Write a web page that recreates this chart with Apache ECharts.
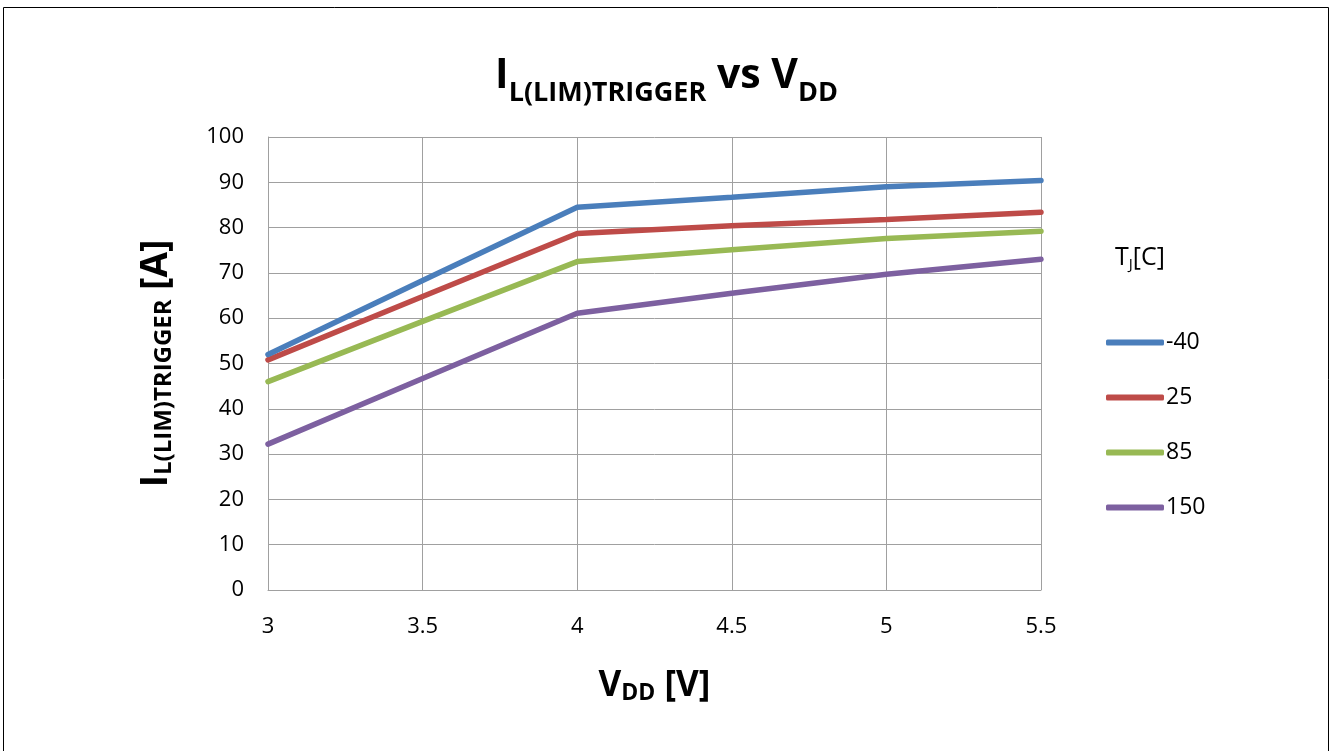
<!DOCTYPE html>
<html><head><meta charset="utf-8">
<script src="https://cdn.jsdelivr.net/npm/echarts@6/dist/echarts.min.js"></script>
<style>html,body{margin:0;padding:0;background:#fff}#c{width:1333px;height:751px}</style>
</head><body><div id="c"></div>
<script>
const vdd = [3, 3.5, 4, 4.5, 5, 5.5];
const seriesNames = ['-40', '25', '85', '150'];
const tm40 = [52.0, 68.3, 84.5, 86.7, 89.0, 90.4];
const t25 = [50.8, 64.8, 78.7, 80.4, 81.8, 83.4];
const t85 = [46.0, 59.3, 72.5, 75.1, 77.6, 79.2];
const t150 = [32.2, 46.7, 61.1, 65.5, 69.7, 73.0];
const colors = ['#4a7ebb', '#be4b48', '#98b954', '#7d60a0'];
const values = [tm40, t25, t85, t150];
const FONT = '"Open Sans", "Liberation Sans", sans-serif';

const chart = echarts.init(document.getElementById('c'));
chart.setOption({
  backgroundColor: '#fff',
  animation: false,
  textStyle: { fontFamily: FONT },
  title: {
    text: '{a|I}{b|L(LIM)TRIGGER}{a| vs V}{b|DD}',
    left: 'center', top: 44,
    textStyle: {
      rich: {
        a: { fontFamily: FONT, fontWeight: 'bold', fontSize: 41, color: '#000', verticalAlign: 'bottom', lineHeight: 48 },
        b: { fontFamily: FONT, fontWeight: 'bold', fontSize: 27, color: '#000', verticalAlign: 'bottom', lineHeight: 40, padding: [0, 0, -10, 0] }
      }
    }
  },
  grid: { left: 268, right: 292, top: 137, bottom: 161 },
  legend: {
    orient: 'vertical', left: 1101, top: 326,
    itemWidth: 58, itemHeight: 6, itemGap: 32,
    icon: 'roundRect',
    data: seriesNames,
    textStyle: { fontSize: 23, lineHeight: 22, color: '#000', fontFamily: FONT, padding: [0, 0, 0, -3] }
  },
  xAxis: {
    type: 'value', min: 3, max: 5.5, interval: 0.5,
    name: '{a|V}{b|DD}{a| [V]}',
    nameLocation: 'middle', nameGap: 78,
    nameTextStyle: {
      rich: {
        a: { fontFamily: FONT, fontWeight: 'bold', fontSize: 35, color: '#000' },
        b: { fontFamily: FONT, fontWeight: 'bold', fontSize: 23, color: '#000', padding: [14, 0, 0, 0] }
      }
    },
    axisLine: { show: true, lineStyle: { color: '#a0a0a0', width: 1 } },
    axisTick: { show: false },
    splitLine: { show: true, lineStyle: { color: '#a0a0a0', width: 1 } },
    axisLabel: { fontSize: 22, color: '#000', margin: 26, fontFamily: FONT }
  },
  yAxis: {
    type: 'value', min: 0, max: 100, interval: 10,
    name: '{a|I}{b|L(LIM)TRIGGER}{a| [A]}',
    nameLocation: 'middle', nameGap: 92, nameRotate: 90,
    nameTextStyle: {
      rich: {
        a: { fontFamily: FONT, fontWeight: 'bold', fontSize: 37, color: '#000' },
        b: { fontFamily: FONT, fontWeight: 'bold', fontSize: 24, color: '#000', padding: [15, 0, 0, 0] }
      }
    },
    axisLine: { show: true, lineStyle: { color: '#a0a0a0', width: 1 } },
    axisTick: { show: false },
    splitLine: { show: true, lineStyle: { color: '#a0a0a0', width: 1 } },
    axisLabel: { fontSize: 22, color: '#000', margin: 24, fontFamily: FONT }
  },
  graphic: [
    { type: 'rect', shape: { x: 3.5, y: 7.5, width: 1325, height: 760 }, style: { fill: 'none', stroke: '#000', lineWidth: 1 }, silent: true },
    { type: 'text', left: 1115, top: 245, style: {
        text: '{a|T}{b|J}{a|[C]}',
        rich: {
          a: { fontFamily: FONT, fontSize: 25, fill: '#000' },
          b: { fontFamily: FONT, fontSize: 15, fill: '#000', padding: [14, 0, 0, 0] }
        }
      } }
  ],
  series: seriesNames.map((n, i) => ({
    name: n, type: 'line',
    data: vdd.map((x, j) => [x, values[i][j]]),
    showSymbol: false, symbol: 'none',
    lineStyle: { color: colors[i], width: 5.5, cap: 'round' },
    itemStyle: { color: colors[i] },
    z: 10 - i
  }))
});
</script></body></html>
